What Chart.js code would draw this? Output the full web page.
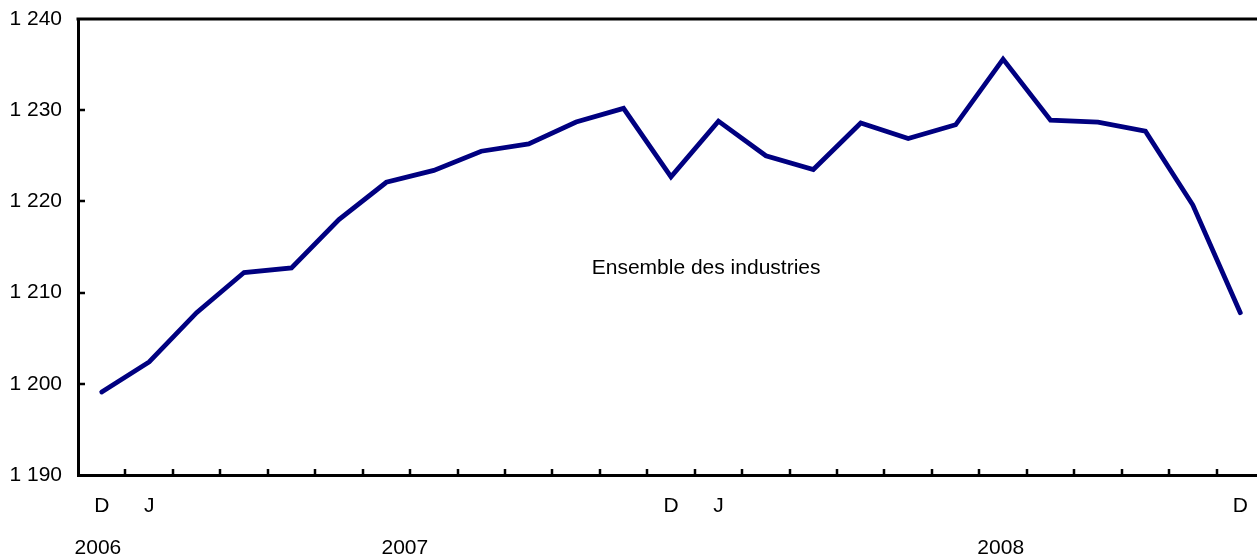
<!DOCTYPE html>
<html>
<head>
<meta charset="utf-8">
<script src="https://cdn.jsdelivr.net/npm/chart.js@4/dist/chart.umd.min.js"></script>
<style>
  html, body { margin: 0; padding: 0; background: #fff; overflow: hidden; }
  #wrap { width: 1264px; height: 556px; position: relative; }
</style>
</head>
<body>
<div id="wrap"><canvas id="c"></canvas></div>
<script>
// Months from December 2006 to December 2008
const months = ['D06','J07','F07','M07','A07','M07b','J07b','J07c','A07b','S07','O07','N07',
                'D07','J08','F08','M08','A08','M08b','J08b','J08c','A08b','S08','O08','N08','D08'];
const xTickLabels = ['D','J','','','','','','','','','','','D','J','','','','','','','','','','','D'];
const values = [1199.1, 1202.4, 1207.8, 1212.2, 1212.7, 1218.0, 1222.1, 1223.4, 1225.5, 1226.3, 1228.7, 1230.2,
                1222.7, 1228.8, 1225.0, 1223.5, 1228.6, 1226.9, 1228.4, 1235.6, 1228.9, 1228.7, 1227.7, 1219.6, 1207.8];
const yTicks = [1190, 1200, 1210, 1220, 1230, 1240];
const yearLabels = ['2006', '2007', '2008'];
const yearPositions = [-0.08, 6.39, 18.95];
const seriesLabel = 'Ensemble des industries';
const seriesLabelPos = [12.74, 1212.7];

const FONT = '"Liberation Sans", Arial, Helvetica, sans-serif';
const fmt = v => String(v).replace(/\B(?=(\d{3})+(?!\d))/g, ' ');

const decor = {
  id: 'decor',
  afterDraw(chart) {
    const ctx = chart.ctx, a = chart.chartArea;
    const xs = chart.scales.x, ys = chart.scales.y;
    ctx.save();
    ctx.strokeStyle = '#000';
    // top frame line
    ctx.lineWidth = 3;
    ctx.beginPath();
    ctx.moveTo(a.left - 1.5, a.top);
    ctx.lineTo(a.right, a.top);
    ctx.stroke();
    // inward tick marks on x axis (between categories)
    ctx.lineWidth = 2.5;
    ctx.beginPath();
    for (let i = 1; i < months.length; i++) {
      const px = Math.round(xs.getPixelForValue(i - 0.5));
      ctx.moveTo(px, a.bottom);
      ctx.lineTo(px, a.bottom - 6);
    }
    // inward tick marks on y axis
    yTicks.slice(1, -1).forEach(v => {
      const py = Math.round(ys.getPixelForValue(v));
      ctx.moveTo(a.left, py);
      ctx.lineTo(a.left + 7, py);
    });
    ctx.stroke();
    // year labels
    ctx.fillStyle = '#000';
    ctx.font = '21px ' + FONT;
    ctx.textAlign = 'center';
    ctx.textBaseline = 'middle';
    yearLabels.forEach((t, i) => {
      ctx.fillText(t, xs.getPixelForValue(yearPositions[i]), 548);
    });
    // series label
    ctx.fillText(seriesLabel, xs.getPixelForValue(seriesLabelPos[0]), ys.getPixelForValue(seriesLabelPos[1]));
    ctx.restore();
  }
};

new Chart(document.getElementById('c'), {
  type: 'line',
  data: {
    labels: months,
    datasets: [{
      data: values,
      borderColor: '#000080',
      borderWidth: 4.8,
      pointRadius: 0,
      tension: 0,
      fill: false,
      borderCapStyle: 'round',
      borderJoinStyle: 'miter'
    }]
  },
  options: {
    responsive: true,
    maintainAspectRatio: false,
    animation: false,
    layout: { padding: { top: 19, right: 0, left: 0, bottom: 0 } },
    plugins: { legend: { display: false }, tooltip: { enabled: false } },
    scales: {
      x: {
        type: 'category',
        offset: true,
        grid: { display: false, offset: true, drawTicks: false },
        border: { display: true, color: '#000', width: 3 },
        ticks: {
          autoSkip: false,
          maxRotation: 0,
          color: '#000',
          font: { family: FONT, size: 21 },
          padding: 19,
          callback: (v, i) => xTickLabels[i]
        },
        afterFit: s => { s.height = 81; s.paddingLeft = 0; s.paddingRight = 0; }
      },
      y: {
        min: 1190,
        max: 1240,
        grid: { display: false, drawTicks: false },
        border: { display: true, color: '#000', width: 3 },
        afterBuildTicks: s => { s.ticks = yTicks.map(v => ({ value: v })); },
        ticks: {
          color: '#000',
          font: { family: FONT, size: 21 },
          padding: 16,
          callback: v => fmt(v)
        },
        afterFit: s => { s.width = 78; s.paddingTop = 0; s.paddingBottom = 0; }
      }
    }
  },
  plugins: [decor]
});
</script>
</body>
</html>
